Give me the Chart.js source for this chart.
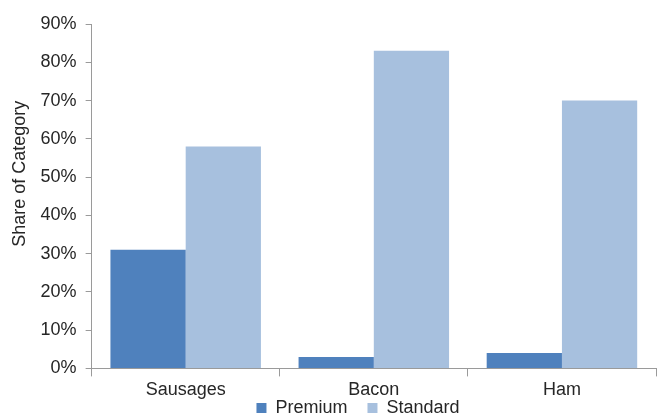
<!DOCTYPE html>
<html>
<head>
<meta charset="utf-8">
<script src="https://cdn.jsdelivr.net/npm/chart.js@4/dist/chart.umd.min.js"></script>
<style>
  html, body { margin: 0; padding: 0; background: #fff; }
  #wrap { width: 659px; height: 419px; position: relative; }
</style>
</head>
<body>
<div id="wrap"><canvas id="c"></canvas></div>
<script>
// Share of each meat category split into premium and standard lines
const categories = ['Sausages', 'Bacon', 'Ham'];
const premium = [31, 3, 4];
const standard = [58, 83, 70];
const yTicks = [0, 10, 20, 30, 40, 50, 60, 70, 80, 90];

const FONT = 'Liberation Sans, Arial, sans-serif';
const axisGray = '#9a9a9a';
const textColor = '#262626';

// Nudge the bottom legend: a little right of the canvas centre and tucked under the axis labels.
// Only the top edge moves up, so the legend's clip box still covers its items.
const legendNudge = {
  id: 'legendNudge',
  afterLayout(chart) {
    const lg = chart.legend;
    if (!lg) return;
    const dx = 30, dy = 25;
    lg.left += dx; lg.right += dx;
    lg.top -= dy;
  }
};

new Chart(document.getElementById('c'), {
  type: 'bar',
  data: {
    labels: categories,
    datasets: [
      { label: 'Premium', data: premium, backgroundColor: '#4f81bd', categoryPercentage: 0.8, barPercentage: 1.0 },
      { label: 'Standard', data: standard, backgroundColor: '#a7c0de', categoryPercentage: 0.8, barPercentage: 1.0 }
    ]
  },
  plugins: [legendNudge],
  options: {
    responsive: true,
    maintainAspectRatio: false,
    animation: false,
    layout: { padding: { top: 24, right: 3, left: 0, bottom: 0 } },
    plugins: {
      legend: {
        position: 'bottom',
        maxHeight: 15,
        labels: {
          font: { family: FONT, size: 18 },
          color: textColor,
          boxWidth: 10,
          boxHeight: 10,
          padding: 20
        }
      },
      tooltip: { enabled: false }
    },
    scales: {
      x: {
        grid: { offset: true, drawOnChartArea: false, tickLength: 8, color: axisGray },
        border: { color: axisGray },
        ticks: { font: { family: FONT, size: 18 }, color: textColor, padding: 3 }
      },
      y: {
        min: 0,
        max: 90,
        afterBuildTicks: (axis) => { axis.ticks = yTicks.map(v => ({ value: v })); },
        grid: { drawOnChartArea: false, tickLength: 6, color: axisGray },
        border: { color: axisGray },
        ticks: {
          font: { family: FONT, size: 18 },
          color: textColor,
          padding: 9,
          callback: (v) => v + '%'
        },
        title: {
          display: true,
          // leading spaces lift the rotated title a little above the axis midpoint
          text: '         Share of Category',
          font: { family: FONT, size: 18 },
          color: textColor,
          padding: { top: 9, bottom: 1 }
        }
      }
    }
  }
});
</script>
</body>
</html>
